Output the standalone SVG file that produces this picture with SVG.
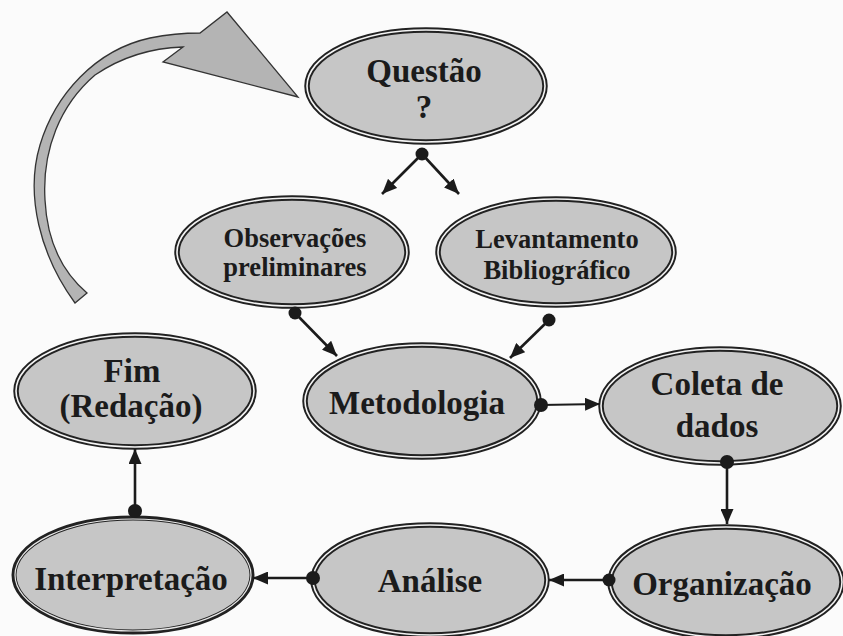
<svg xmlns="http://www.w3.org/2000/svg" width="843" height="636" viewBox="0 0 843 636">
<style>
.bg{fill:#fbfbfb}
.node .o{fill:#c6c6c6;stroke:#222;stroke-width:5.5}
.node .i{fill:none;stroke:#f4f4f4;stroke-width:1.6}
.big{font-family:"Liberation Serif","Times New Roman",serif;font-weight:bold;font-size:33px;fill:#1b1b1b;text-anchor:middle}
.small{font-family:"Liberation Serif","Times New Roman",serif;font-weight:bold;font-size:26.5px;fill:#1b1b1b;text-anchor:middle}
.conn line{stroke:#1b1b1b;stroke-width:2.6;marker-end:url(#ah)}
.conn circle{fill:#1b1b1b}
.curve{fill:#b4b4b4;stroke:#333;stroke-width:1.3;stroke-linejoin:miter}
</style>
<defs>
<marker id="ah" markerUnits="userSpaceOnUse" viewBox="0 0 15 13" refX="15" refY="6.5" markerWidth="15" markerHeight="13" orient="auto">
<path d="M0,0 L15,6.5 L0,13 z" fill="#1b1b1b"/>
</marker>
</defs>
<rect class="bg" x="0" y="0" width="843" height="636"/>

<path id="return-arrow" class="curve" d="M 75 303 C 40 255, 25 195, 40 145 C 55 95, 95 50, 150 38 C 170 34, 185 33, 200 33 L 227 12 L 298 97 L 163 62 L 183 47 C 150 48, 120 58, 95 75 C 60 105, 42 150, 45 200 C 47 240, 60 270, 87 293 Z"/>

<g id="questao" class="node">
<ellipse class="o" cx="426" cy="86" rx="119" ry="56"/>
<ellipse class="i" cx="426" cy="86" rx="119" ry="56"/>
<text class="big" x="424" y="82">Questão</text>
<text class="big" x="424" y="118">?</text>
</g>
<g id="observacoes" class="node">
<ellipse class="o" cx="292" cy="252" rx="115" ry="54"/>
<ellipse class="i" cx="292" cy="252" rx="115" ry="54"/>
<text class="small" x="295" y="247">Observações</text>
<text class="small" x="295" y="276">preliminares</text>
</g>
<g id="levantamento" class="node">
<ellipse class="o" cx="556" cy="252" rx="118" ry="53"/>
<ellipse class="i" cx="556" cy="252" rx="118" ry="53"/>
<text class="small" x="557" y="248">Levantamento</text>
<text class="small" x="557" y="279">Bibliográfico</text>
</g>
<g id="metodologia" class="node">
<ellipse class="o" cx="422" cy="401" rx="117" ry="56"/>
<ellipse class="i" cx="422" cy="401" rx="117" ry="56"/>
<text class="big" x="417" y="414">Metodologia</text>
</g>
<g id="coleta" class="node">
<ellipse class="o" cx="720" cy="406" rx="119" ry="57"/>
<ellipse class="i" cx="720" cy="406" rx="119" ry="57"/>
<text class="big" x="717" y="395">Coleta de</text>
<text class="big" x="717" y="437">dados</text>
</g>
<g id="organizacao" class="node">
<ellipse class="o" cx="726" cy="582" rx="116" ry="55"/>
<ellipse class="i" cx="726" cy="582" rx="116" ry="55"/>
<text class="big" x="722" y="595">Organização</text>
</g>
<g id="analise" class="node">
<ellipse class="o" cx="430" cy="580" rx="117" ry="55"/>
<ellipse class="i" cx="430" cy="580" rx="117" ry="55"/>
<text class="big" x="430" y="592">Análise</text>
</g>
<g id="interpretacao" class="node">
<ellipse class="o" cx="133" cy="575" rx="119" ry="57" style="stroke-width:5"/>
<ellipse class="i" cx="133" cy="575" rx="118" ry="56" style="stroke-width:1.2;stroke:#e8e8e8"/>
<text class="big" x="131" y="590">Interpretação</text>
</g>
<g id="fim" class="node">
<ellipse class="o" cx="135" cy="391" rx="119" ry="56"/>
<ellipse class="i" cx="135" cy="391" rx="119" ry="56"/>
<text class="big" x="132" y="382">Fim</text>
<text class="big" x="131" y="417">(Redação)</text>
</g>

<g id="connectors" class="conn">
<line x1="422" y1="154" x2="382" y2="194"/>
<line x1="422" y1="154" x2="459" y2="194"/>
<circle cx="422" cy="154" r="6.5"/>
<line x1="295" y1="313" x2="337" y2="356"/>
<circle cx="295" cy="313" r="6.5"/>
<line x1="549" y1="320" x2="510" y2="358"/>
<circle cx="549" cy="320" r="6.5"/>
<line x1="541" y1="405" x2="600" y2="404" style="stroke-width:1.8"/>
<circle cx="541" cy="405" r="7"/>
<line x1="727" y1="462" x2="727" y2="524"/>
<circle cx="727" cy="462" r="7"/>
<line x1="609" y1="580" x2="549" y2="580"/>
<circle cx="609" cy="580" r="6.5"/>
<line x1="313" y1="578" x2="253" y2="578"/>
<circle cx="313" cy="578" r="7"/>
<line x1="135" y1="511" x2="135" y2="449"/>
<circle cx="135" cy="511" r="7"/>
</g>
</svg>
